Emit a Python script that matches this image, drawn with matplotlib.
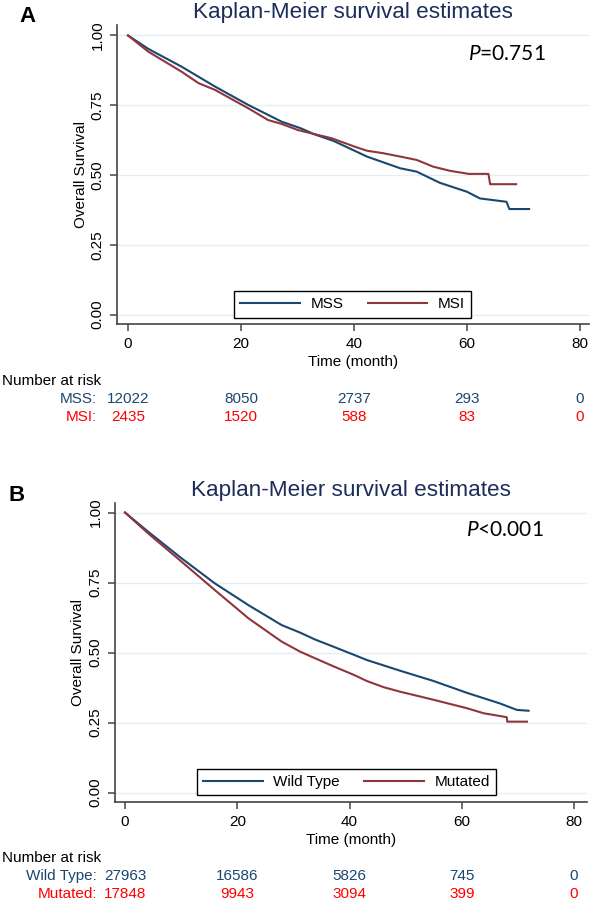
import matplotlib
matplotlib.use("Agg")
import matplotlib.pyplot as plt
from matplotlib.transforms import blended_transform_factory

plt.rcParams['font.family'] = ['Liberation Sans', 'DejaVu Sans']
plt.rcParams['mathtext.fontset'] = 'custom'
plt.rcParams['mathtext.rm'] = 'Lato'
plt.rcParams['mathtext.it'] = 'Lato:italic'

# ---- data ----
mss_t = [0, 3.6, 9.5, 15.4, 21.3, 27.2, 30.5, 33.1, 36.4, 40.2, 42.3, 48.2, 51.1,
         55.2, 60.0, 62.3, 67.0, 67.5, 71.0]
mss_s = [1.0, 0.952, 0.888, 0.817, 0.751, 0.691, 0.668, 0.645, 0.622, 0.586, 0.566,
         0.524, 0.512, 0.472, 0.440, 0.416, 0.404, 0.378, 0.378]
msi_t = [0, 3.6, 9.5, 12.5, 15.4, 21.3, 24.8, 27.2, 30.1, 33.1, 36.0, 40.2, 42.3,
         45.2, 48.2, 51.1, 54.0, 57.0, 60.3, 63.8, 64.1, 68.7]
msi_s = [1.0, 0.942, 0.870, 0.829, 0.805, 0.739, 0.697, 0.683, 0.661, 0.646, 0.632,
         0.601, 0.587, 0.578, 0.566, 0.554, 0.530, 0.515, 0.504, 0.504, 0.467, 0.467]

wt_t = [0, 4.15, 10.1, 16.0, 22.0, 27.9, 31.2, 33.9, 37.1, 41.0, 43.1, 49.0, 55.0,
        60.9, 66.8, 69.8, 71.9]
wt_s = [1.0, 0.931, 0.836, 0.747, 0.669, 0.598, 0.571, 0.546, 0.521, 0.490, 0.473,
        0.435, 0.398, 0.356, 0.318, 0.295, 0.292]
mut_t = [0, 4.15, 10.1, 16.0, 22.0, 27.9, 31.2, 33.9, 37.1, 41.0, 43.1, 46.1, 49.0,
         55.0, 60.9, 63.9, 68.0, 68.1, 71.6]
mut_s = [1.0, 0.925, 0.824, 0.723, 0.622, 0.539, 0.503, 0.479, 0.451, 0.418, 0.398,
         0.376, 0.360, 0.331, 0.301, 0.283, 0.269, 0.253, 0.253]

risk_times = [0, 20, 40, 60, 80]
risk_mss = [12022, 8050, 2737, 293, 0]
risk_msi = [2435, 1520, 588, 83, 0]
risk_wt = [27963, 16586, 5826, 745, 0]
risk_mut = [17848, 9943, 3094, 399, 0]

p_a = r'$\it{P}$=0.751'
p_b = r'$\it{P}$<0.001'

NAVY = '#1a476f'
MAROON = '#90353b'
TITLE_C = '#1c2d5a'
W, H = 591, 900

fig = plt.figure(figsize=(W / 100, H / 100), dpi=100)


def panel(rect, xlim, ylim, t1, s1, t2, s2, names, risk1, risk2, ptxt, ppos,
          leg_left, letter, letter_pos, ylab_x, y_rows):
    ax = fig.add_axes(rect)
    ax.plot(t1, s1, color=NAVY, lw=1.5, label=names[0])
    ax.plot(t2, s2, color=MAROON, lw=1.5, label=names[1])
    ax.set_xlim(*xlim)
    ax.set_ylim(*ylim)
    ax.set_xticks(risk_times)
    ax.set_yticks([0, 0.25, 0.5, 0.75, 1.0])
    ax.set_yticklabels(['0.00', '0.25', '0.50', '0.75', '1.00'], rotation=90,
                       va='center')
    ax.yaxis.grid(True, color='#e4eef0', lw=1)
    ax.set_axisbelow(True)
    for sp in ['top', 'right']:
        ax.spines[sp].set_visible(False)
    for sp in ['left', 'bottom']:
        ax.spines[sp].set_color('#444444')
        ax.spines[sp].set_linewidth(1.2)
    ax.tick_params(labelsize=11, length=5, width=1.1, color='#444444', pad=4)
    ax.set_xlabel('Time (month)', fontsize=11, labelpad=3)
    ax.set_ylabel('Overall Survival', fontsize=11)
    ax.yaxis.set_label_coords(ylab_x, 0.5, transform=blended_transform_factory(
        fig.transFigure, ax.transAxes))
    ax.set_title('Kaplan-Meier survival estimates', fontsize=16.2, color=TITLE_C,
                 pad=5)
    ax.text(ppos[0], ppos[1], ptxt, fontsize=15, family='Lato',
            transform=fig.transFigure, ha='left', va='center')
    leg = ax.legend(loc='center left', ncol=2, bbox_to_anchor=leg_left,
                    bbox_transform=fig.transFigure, fontsize=11, handlelength=3.9,
                    handletextpad=0.7, columnspacing=1.6, borderpad=0.4,
                    borderaxespad=0, fancybox=False, framealpha=1)
    leg.get_frame().set_edgecolor('black')
    leg.get_frame().set_linewidth(1.0)
    fig.text(letter_pos[0], letter_pos[1], letter, fontsize=16, fontweight='bold',
             ha='left', va='center')

    # number at risk table
    tr = blended_transform_factory(ax.transData, fig.transFigure)
    fig.text(2 / W, y_rows[0], 'Number at risk', fontsize=11, va='center')
    for (nm, vals, col, yy) in [(names[0], risk1, NAVY, y_rows[1]),
                                (names[1], risk2, 'red', y_rows[2])]:
        fig.text(97 / W, yy, nm + ':', fontsize=11, color=col, ha='right',
                 va='center')
        for t, v in zip(risk_times, vals):
            ax.text(t, yy, str(v), fontsize=11, color=col, ha='center',
                    va='center', transform=tr)
    return ax


panel([117 / W, 1 - 324 / H, 472 / W, 299 / H], (-1.95, 81.6), (-0.034, 1.0376),
      mss_t, mss_s, msi_t, msi_s, ['MSS', 'MSI'], risk_mss, risk_msi, p_a,
      (468 / W, 1 - 54 / H), (234 / W, 1 - 304.5 / H), 'A', (19 / W, 1 - 17 / H),
      88 / W, [1 - 381 / H, 1 - 399 / H, 1 - 417 / H])

panel([115 / W, 1 - 802.3 / H, 472 / W, 299.6 / H], (-1.78, 82.3), (-0.035, 1.035),
      wt_t, wt_s, mut_t, mut_s, ['Wild Type', 'Mutated'], risk_wt, risk_mut, p_b,
      (466 / W, 1 - 530 / H), (197 / W, 1 - 782 / H), 'B', (8 / W, 1 - 495 / H),
      85 / W, [1 - 858 / H, 1 - 876 / H, 1 - 894 / H])

fig.savefig('out.png', dpi=100)
